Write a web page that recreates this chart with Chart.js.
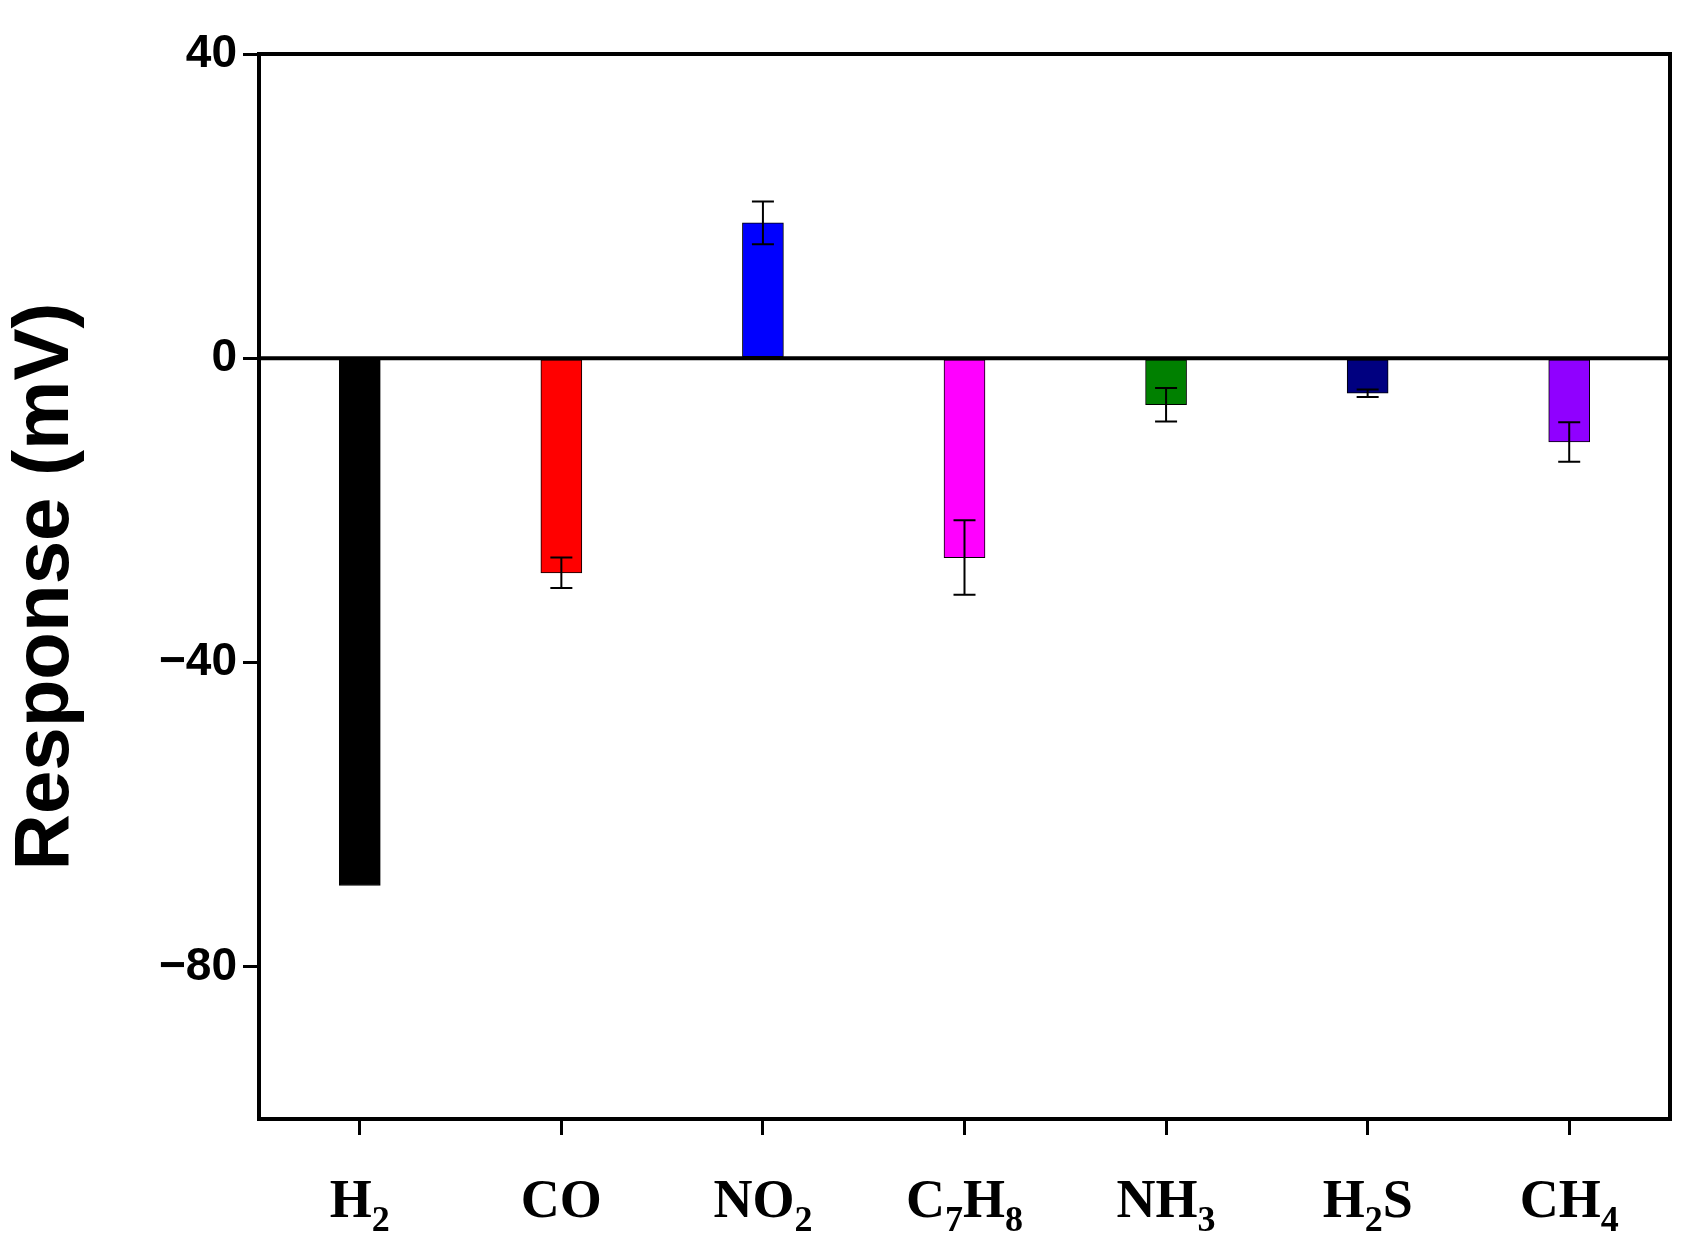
<!DOCTYPE html>
<html>
<head>
<meta charset="utf-8">
<script src="https://cdn.jsdelivr.net/npm/chart.js@4"></script>
<style>
  html, body { margin: 0; padding: 0; background: #fff; }
  #wrap { width: 1695px; height: 1248px; }
</style>
</head>
<body>
<div id="wrap"><canvas id="myChart" width="1695" height="1248"></canvas></div>
<script>
// -- data --
const gases = ['H2', 'CO', 'NO2', 'C7H8', 'NH3', 'H2S', 'CH4'];
// label pieces: [text, isSubscript]
const gasLabels = [
    [['H', 0], ['2', 1]],
    [['CO', 0]],
    [['NO', 0], ['2', 1]],
    [['C', 0], ['7', 1], ['H', 0], ['8', 1]],
    [['NH', 0], ['3', 1]],
    [['H', 0], ['2', 1], ['S', 0]],
    [['CH', 0], ['4', 1]]
];
const responses = [-69.3, -28.2, 17.8, -26.2, -6.1, -4.6, -11.0];
const errors = [0, 2.0, 2.8, 4.9, 2.2, 0.5, 2.6];
const barColors = ['#000000', '#ff0000', '#0000ff', '#ff00ff', '#008000', '#000080', '#9000ff'];
const yTickValues = [40, 0, -40, -80];

// --- error bars, frame, zero line and x labels ---
const extras = {
    id: 'extras',
    afterDatasetsDraw(chart) {
        const c = chart.ctx, x = chart.scales.x, y = chart.scales.y, a = chart.chartArea;
        c.save();
        // error bars
        c.strokeStyle = '#000';
        c.lineWidth = 2;
        errors.forEach((e, i) => {
            if (!e) return;
            const px = x.getPixelForValue(i);
            const y1 = y.getPixelForValue(responses[i] + e);
            const y2 = y.getPixelForValue(responses[i] - e);
            c.beginPath();
            c.moveTo(px, y1); c.lineTo(px, y2);
            c.moveTo(px - 11, y1); c.lineTo(px + 11, y1);
            c.moveTo(px - 11, y2); c.lineTo(px + 11, y2);
            c.stroke();
        });
        // zero line
        c.lineWidth = 4;
        c.beginPath();
        c.moveTo(a.left, y.getPixelForValue(0));
        c.lineTo(a.right, y.getPixelForValue(0));
        c.stroke();
        // top and right frame
        c.beginPath();
        c.moveTo(a.left, a.top); c.lineTo(a.right, a.top); c.lineTo(a.right, a.bottom);
        c.stroke();
        // x labels with subscripts
        c.fillStyle = '#000';
        c.textBaseline = 'alphabetic';
        gasLabels.forEach((parts, i) => {
            const big = 'bold 54px "Liberation Serif", "Times New Roman", serif';
            const small = 'bold 36px "Liberation Serif", "Times New Roman", serif';
            let w = 0;
            parts.forEach(p => { c.font = p[1] ? small : big; w += c.measureText(p[0]).width; });
            let px = x.getPixelForValue(i) - w / 2;
            const base = a.bottom + 98;
            parts.forEach(p => {
                c.font = p[1] ? small : big;
                c.fillText(p[0], px, p[1] ? base + 14 : base);
                px += c.measureText(p[0]).width;
            });
        });
        c.restore();
    }
};

const ctx = document.getElementById('myChart').getContext('2d');
const myChart = new Chart(ctx, {
    type: 'bar',
    data: {
        labels: gases,
        datasets: [{
            data: responses,
            backgroundColor: barColors,
            borderColor: '#000',
            borderWidth: 1,
            borderSkipped: false,
            barThickness: 41
        }]
    },
    options: {
        responsive: false,
        animation: false,
        layout: { padding: { top: 54, right: 25, left: 0, bottom: 0 } },
        plugins: { legend: { display: false }, tooltip: { enabled: false } },
        scales: {
            x: {
                offset: true,
                grid: { display: true, drawOnChartArea: false, offset: false, tickLength: 16, lineWidth: 3, color: '#000' },
                border: { display: true, width: 4, color: '#000' },
                ticks: { display: false },
                afterFit(s) { s.height = 129; }
            },
            y: {
                min: -100,
                max: 40,
                afterBuildTicks(s) { s.ticks = yTickValues.map(v => ({ value: v })); },
                grid: { display: true, drawOnChartArea: false, tickLength: 16, lineWidth: 3, color: '#000' },
                border: { display: true, width: 4, color: '#000' },
                ticks: {
                    color: '#000',
                    font: { family: '"Liberation Sans", Arial, sans-serif', size: 46, weight: 'bold' },
                    padding: 6,
                    callback: v => (v < 0 ? '\u2212' + Math.abs(v) : '' + v)
                },
                title: {
                    display: true,
                    text: 'Response (mV)',
                    color: '#000',
                    font: { family: '"Liberation Sans", Arial, sans-serif', size: 78, weight: 'bold' },
                    padding: { top: 0, bottom: 10 }
                },
                afterFit(s) { s.width = 259; }
            }
        }
    },
    plugins: [extras]
});
</script>
</body>
</html>
